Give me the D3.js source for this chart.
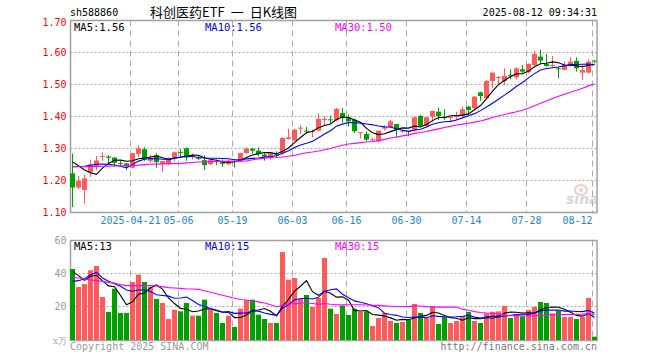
<!DOCTYPE html>
<html><head><meta charset="utf-8">
<script src="https://cdn.jsdelivr.net/npm/d3@7"></script>
<style>body{margin:0;background:#fff}svg{display:block}</style>
</head><body>
<script>
// ---- data ----
const openP = [1.2216,1.1773,1.170,1.2247,1.2423,1.2742,1.2742,1.2711,1.2536,1.2526,
1.2392,1.2825,1.2969,1.2608,1.2784,1.2515,1.2505,1.2691,1.2887,1.30,
1.2742,1.2701,1.2629,1.2505,1.2598,1.2567,1.2505,1.2598,1.2608,1.2854,
1.299,1.2927,1.2802,1.2698,1.2812,1.2844,1.3292,1.324,1.3625,1.3552,
1.3521,1.3552,1.3896,1.3906,1.3875,1.4104,1.3969,1.3896,1.3479,1.3448,
1.326,1.3219,1.3615,1.3656,1.376,1.3531,1.3542,1.3552,1.401,1.3698,
1.399,1.4146,1.3979,1.3958,1.399,1.401,1.4302,1.425,1.475,1.4563,
1.5104,1.5208,1.5104,1.5292,1.5219,1.5469,1.5375,1.5604,1.5865,1.5635,
1.5594,1.55,1.5448,1.5583,1.5729,1.5365,1.5365,1.5745];
const closeP = [1.1773,1.1979,1.206,1.2495,1.2619,1.2763,1.2701,1.2546,1.2526,1.2443,
1.2845,1.30,1.266,1.2701,1.2567,1.2598,1.2701,1.2876,1.2866,1.2711,
1.2773,1.2690,1.2474,1.2629,1.2577,1.2515,1.2608,1.2577,1.2856,1.299,
1.2927,1.2823,1.274,1.2844,1.2792,1.3323,1.3344,1.3583,1.3646,1.3542,
1.3542,1.3917,1.3917,1.3885,1.4229,1.3948,1.3844,1.3531,1.351,1.3271,
1.3281,1.3552,1.3656,1.3844,1.3583,1.3552,1.3521,1.3969,1.3698,1.3969,
1.4167,1.401,1.3969,1.3979,1.401,1.4219,1.4198,1.4615,1.4635,1.5104,
1.5365,1.5229,1.526,1.5271,1.55,1.5396,1.5635,1.5948,1.574,1.5573,
1.5604,1.549,1.5604,1.5708,1.55,1.5448,1.5708,1.5740];
const highP = [1.2835,1.2134,1.2165,1.265,1.2763,1.2876,1.2794,1.2711,1.2608,1.2546,
1.2845,1.3093,1.3031,1.2784,1.2845,1.2598,1.2722,1.2897,1.2979,1.3031,
1.2835,1.2784,1.2784,1.266,1.265,1.265,1.265,1.265,1.2856,1.3031,
1.301,1.3031,1.2885,1.2844,1.2906,1.3344,1.3615,1.3615,1.3719,1.3667,
1.3583,1.4094,1.40,1.4021,1.426,1.426,1.4052,1.3927,1.351,1.3531,
1.3344,1.3552,1.3719,1.3885,1.376,1.3604,1.3552,1.399,1.4042,1.399,
1.4177,1.4271,1.4219,1.399,1.4146,1.4302,1.4323,1.4635,1.4771,1.5135,
1.5365,1.526,1.55,1.5469,1.5531,1.5604,1.5656,1.6052,1.6073,1.5948,
1.5885,1.5552,1.5708,1.5844,1.5844,1.5604,1.5781,1.5745];
const lowP = [1.1165,1.1722,1.1268,1.2093,1.232,1.2608,1.2526,1.2423,1.2443,1.232,
1.2371,1.2732,1.2608,1.2546,1.2392,1.2268,1.2474,1.2588,1.2753,1.2608,
1.265,1.2629,1.232,1.2474,1.2474,1.2423,1.2474,1.2402,1.2577,1.2833,
1.2833,1.275,1.2615,1.2646,1.2698,1.2802,1.3271,1.3219,1.3448,1.3479,
1.3344,1.3531,1.3708,1.376,1.3844,1.3792,1.3688,1.3479,1.3302,1.3219,
1.3198,1.3188,1.3552,1.3635,1.3323,1.3479,1.3375,1.3531,1.3656,1.3656,
1.3833,1.3885,1.3885,1.3833,1.3885,1.3969,1.4042,1.4198,1.4479,1.4531,
1.4896,1.501,1.4979,1.5156,1.5156,1.5323,1.5344,1.5573,1.5635,1.5552,
1.5531,1.5188,1.5448,1.5552,1.5396,1.5135,1.5344,1.5656];
const volume = [42.6,31.8,33.6,41.8,44.4,25.8,16.8,30.8,16.2,16.2,
34.8,39.2,34.8,31.8,24.6,22.2,12.6,18.2,17.2,22.2,
14.6,14.6,24.2,18.2,16.2,10.2,14.6,7.8,18.8,23.8,
24.2,15.2,12.6,10.2,10.2,52.8,36.2,37.2,24.8,27,
19.8,25.2,49.2,18.8,15.6,20.6,15,18.8,17,17.2,
8.4,13.2,16.2,11.4,10.2,10.8,12,21.6,16.2,13.2,
20.4,9.6,13.8,10.2,11.4,14.4,16.8,11.4,10.2,15.8,
17,17.2,20.4,13.2,15.6,14.2,18,19.8,22.8,22.2,
16,17.6,13.8,13.8,12.6,13.8,25.2,2];
// moving-average values at the left edge (history before the window)
const ma5Head = [1.2577,1.2454,1.232,1.2237];
const ma10Head = [1.2425,1.243,1.2435,1.247,1.250,1.2505,1.250,1.248,1.244];
const ma30Head = [1.2423,1.2425,1.2428,1.2432,1.2436,1.2440,1.2443,1.2446,1.2450,1.2455,
1.2465,1.2475,1.2490,1.2500,1.2505,1.2512,1.2520,1.2526,1.2530,1.2545,
1.2557,1.2570,1.2580,1.2585,1.2588,1.2590,1.2593,1.2596,1.2600];
const vma5Head = [41.0,38.6,35.8,38.2];
const vma10Head = [35.2,35.6,36.8,39.2,40.6,37.2,35.2,33.8,32.2];
const vma30Head = [37.6,37.2,36.6,36.0,35.6,35.2,34.6,34.2,33.2,32.6,32.6,32.6,32.6,32.6,32.4,
32.0,31.4,31.2,31.0,30.6,30.6,30.4,29.5,28.6,27.7,26.8,26.0,25.1,24.3];
const tickIdx = [10,18,27,37,46,56,66,76,87];
const tickLabels = ["2025-04-21","05-06","05-19","06-03","06-16","06-30","07-14","07-28","08-12"];
const priceTicks = [1.10,1.20,1.30,1.40,1.50,1.60,1.70];
const volTicks = [20,40,60];
const priceLegend = ["MA5:1.56","MA10:1.56","MA30:1.50"];
const volLegend = ["MA5:13","MA10:15","MA30:15"];
const titleParts = ["科创医药ETF","一","日K线图"];

// ---- drawing ----
const W=660,H=360;
const RED="#ff5a5a", GREEN="#00a000";
const MONO="'DejaVu Sans Mono', monospace";
const n = closeP.length;
const svg = d3.select("body").append("svg").attr("width",W).attr("height",H);

const xb = d3.scaleBand().domain(d3.range(n)).range([69.5,597.5]).paddingInner(1/6).paddingOuter(1/12);
const xl = d3.scaleLinear().domain([0,n]).range([70,598]);
const cx = i => xb(i) + xb.bandwidth()/2;
const y = d3.scaleLinear().domain([1.10,1.70]).range([212.3,20.3]);
const yv = d3.scaleLinear().domain([0,60]).range([340,240]);
const px = v => Math.floor(v)+0.5;

function ma(arr,k,head){return arr.map((d,i)=> i<k-1 ? head[i] : d3.mean(arr.slice(i-k+1,i+1)));}

const L=70.5, R=597;
const panels = [{top:20.5,bot:212.5},{top:240.5,bot:340.5}];

// horizontal dotted grids
const g = svg.append("g");
priceTicks.slice(1,-1).forEach(t=>{
  g.append("line").attr("x1",L).attr("x2",R).attr("y1",px(y(t))).attr("y2",px(y(t)))
   .attr("stroke","#aaa").attr("stroke-dasharray","2,2");
});
[20,40].forEach(t=>{
  g.append("line").attr("x1",L).attr("x2",R).attr("y1",px(yv(t))).attr("y2",px(yv(t)))
   .attr("stroke","#aaa").attr("stroke-dasharray","2,2");
});
// vertical dashed grids
panels.forEach(p=>{
  tickIdx.forEach(i=>{
    g.append("line").attr("x1",px(xl(i))).attr("x2",px(xl(i))).attr("y1",p.top).attr("y2",p.bot)
     .attr("stroke","#aaa").attr("stroke-dasharray","6,4");
  });
  g.append("rect").attr("x",L).attr("y",p.top).attr("width",R-L).attr("height",p.bot-p.top)
   .attr("fill","none").attr("stroke","#a0a0a0").attr("stroke-width",1.5);
});

// y axes
const ya = svg.append("g").attr("transform",`translate(${L},0)`)
  .call(d3.axisLeft(y).tickValues(priceTicks).tickFormat(d3.format(".2f")).tickSize(0).tickPadding(4));
ya.select(".domain").remove();
ya.selectAll("text").attr("fill","#ff0000").style("font-family",MONO).style("font-size","10px");
ya.select(".tick:last-of-type text").attr("dy","0.55em");

const yva = svg.append("g").attr("transform",`translate(${L},0)`)
  .call(d3.axisLeft(yv).tickValues(volTicks).tickFormat(d3.format("d")).tickSize(0).tickPadding(4));
yva.select(".domain").remove();
yva.selectAll("text").attr("fill","#999").style("font-family",MONO).style("font-size","10px");
svg.append("text").attr("x",67).attr("y",344).attr("text-anchor","end").attr("fill","#aaa")
  .style("font-family","'DejaVu Serif', serif").style("font-size","9px").text("x万");

// x axis labels
const xa = svg.append("g").attr("transform","translate(0,212.3)")
  .call(d3.axisBottom(xl).tickValues(tickIdx).tickFormat((d,k)=>tickLabels[k]).tickSize(0).tickPadding(5));
xa.select(".domain").remove();
xa.selectAll("text").attr("fill","#1a86d6").style("font-family",MONO).style("font-size","10px");
xa.select(".tick:last-of-type text").attr("text-anchor","end");

// watermark
const wm = svg.append("g").attr("opacity",0.55);
wm.append("ellipse").attr("cx",581).attr("cy",190).attr("rx",6).attr("ry",5).attr("fill","none").attr("stroke","#f3a0a0").attr("stroke-width",2);
wm.append("circle").attr("cx",581).attr("cy",190).attr("r",2).attr("fill","#f3a0a0");
wm.append("text").attr("x",566).attr("y",204).attr("fill","#b8b8b8").style("font-family","'DejaVu Sans', sans-serif")
  .style("font-size","14px").style("font-weight","bold").style("font-style","italic").text("sina");

// candles
const up = i => closeP[i] >= openP[i];
const cg = svg.append("g");
d3.range(n).forEach(i=>{
  const col = up(i)?RED:GREEN;
  cg.append("line").attr("x1",cx(i)).attr("x2",cx(i)).attr("y1",y(highP[i])).attr("y2",y(lowP[i])).attr("stroke",col);
  const t = y(Math.max(openP[i],closeP[i])), b = y(Math.min(openP[i],closeP[i]));
  cg.append("rect").attr("x",xb(i)).attr("y",t).attr("width",xb.bandwidth()).attr("height",Math.max(1,b-t)).attr("fill",col);
});
// volume bars
const vg = svg.append("g");
d3.range(n).forEach(i=>{
  vg.append("rect").attr("x",xb(i)).attr("y",yv(volume[i])).attr("width",xb.bandwidth())
    .attr("height",yv(0)-yv(volume[i])).attr("fill",up(i)?RED:GREEN);
});

// MA lines
const lines = [
  {v:ma(closeP,5,ma5Head),s:y,c:"#000"},
  {v:ma(closeP,10,ma10Head),s:y,c:"#0000ff"},
  {v:ma(closeP,30,ma30Head),s:y,c:"#ff00ff"},
  {v:ma(volume,5,vma5Head),s:yv,c:"#000"},
  {v:ma(volume,10,vma10Head),s:yv,c:"#0000ff"},
  {v:ma(volume,30,vma30Head),s:yv,c:"#ff00ff"}
];
lines.forEach(l=>{
  svg.append("path").datum(l.v).attr("fill","none").attr("stroke",l.c).attr("stroke-width",1.1)
    .attr("d",d3.line().x((d,i)=>cx(i)).y(d=>l.s(d)));
});

// legends
const legX=[74,205,335], legC=["#000","#0000ff","#ff00ff"];
priceLegend.forEach((t,k)=>svg.append("text").attr("x",legX[k]).attr("y",31).attr("fill",legC[k])
  .style("font-family",MONO).style("font-size","10.5px").text(t));
volLegend.forEach((t,k)=>svg.append("text").attr("x",legX[k]).attr("y",250).attr("fill",legC[k])
  .style("font-family",MONO).style("font-size","10.5px").text(t));

// header
svg.append("text").attr("x",70).attr("y",16).attr("fill","#000").style("font-family",MONO).style("font-size","10px").text("sh588860");
const title = svg.append("text").attr("x",150).attr("y",17).attr("fill","#000")
  .style("font-family","'Noto Sans CJK SC', sans-serif").style("font-size","13px");
title.append("tspan").text(titleParts[0]);
title.append("tspan").attr("dx",6).text(titleParts[1]);
title.append("tspan").attr("dx",6).text(titleParts[2]);
svg.append("text").attr("x",597).attr("y",16).attr("text-anchor","end").attr("fill","#000").style("font-family",MONO).style("font-size","10px").text("2025-08-12 09:34:31");
// footer
svg.append("text").attr("x",70).attr("y",350).attr("fill","#999").style("font-family",MONO).style("font-size","10px").text("Copyright 2025 SINA.COM");
svg.append("text").attr("x",597).attr("y",350).attr("text-anchor","end").attr("fill","#777").style("font-family",MONO).style("font-size","10px").text("http://finance.sina.com.cn");
</script>
</body></html>
